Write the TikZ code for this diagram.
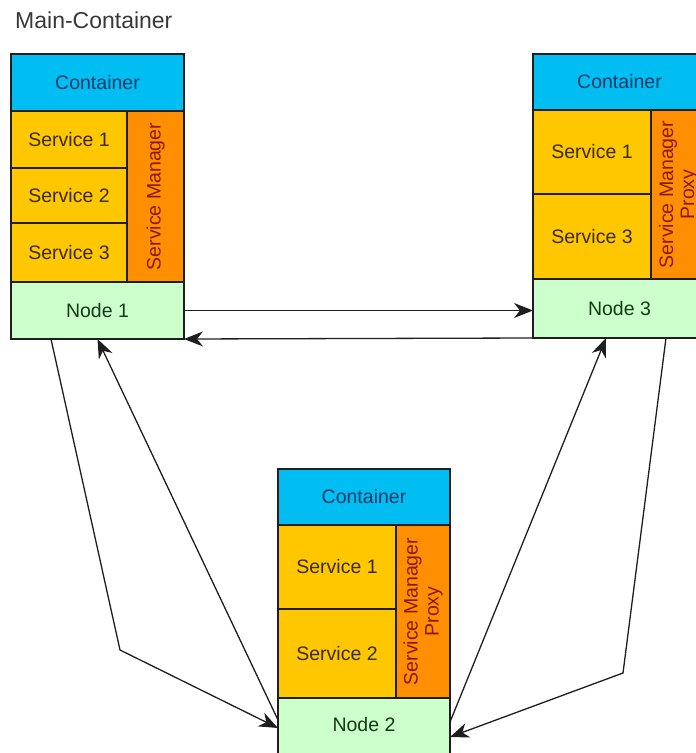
\documentclass[tikz,border=0pt]{standalone}
\usepackage{fontspec}
\setmainfont{Liberation Sans}
\usetikzlibrary{arrows.meta,calc}
\definecolor{cblue}{HTML}{00BEF2}
\definecolor{cserv}{HTML}{FFC700}
\definecolor{cmgr}{HTML}{FF8E00}
\definecolor{cnode}{HTML}{CCFFCC}
\definecolor{tblue}{HTML}{0A3A6A}
\definecolor{tserv}{HTML}{3A2A00}
\definecolor{tmgr}{HTML}{8A1800}
\definecolor{tnode}{HTML}{143A14}
\definecolor{tline}{HTML}{1E1E1E}
\begin{document}
\begin{tikzpicture}[x=1pt,y=-1pt,
  box/.style={draw=tline, line width=1.3pt, rectangle, inner sep=0pt, outer sep=0pt,
    font=\fontsize{19.5}{21}\selectfont},
  contbox/.style={box, fill=cblue, text=tblue, anchor=north west},
  servbox/.style={box, fill=cserv, text=tserv, anchor=north west},
  mgrbox/.style={box, fill=cmgr, text=tmgr, rotate=90, align=center},
  nodebox/.style={box, fill=cnode, text=tnode, anchor=north west},
  arr/.style={draw=tline, line width=1.3pt, -{Stealth[length=19pt,width=15pt,inset=6pt]}},
  title/.style={font=\fontsize{23}{26}\selectfont, text=black!78, inner sep=0pt, anchor=base west}
]
\useasboundingbox (0,0) rectangle (696,753);
\clip (0,0) rectangle (696,753);

\node[title] (t) at (15,28) {Main-Container};

% Block 1
\node[contbox, minimum width=173pt, minimum height=57pt] (c1) at (11,54) {Container};
\node[servbox, minimum width=116pt, minimum height=57pt] (s11) at (11,111) {Service 1};
\node[servbox, minimum width=116pt, minimum height=55pt] (s12) at (11,168) {Service 2};
\node[servbox, minimum width=116pt, minimum height=59pt] (s13) at (11,223) {Service 3};
\node[mgrbox, minimum width=171pt, minimum height=57pt] (m1) at (155.5,196.5) {Service Manager};
\node[nodebox, minimum width=173pt, minimum height=57pt] (n1) at (11,282) {Node 1};

% Block 3
\node[contbox, minimum width=173pt, minimum height=56pt] (c3) at (533,54) {Container};
\node[servbox, minimum width=118pt, minimum height=84pt] (s31) at (533,110) {Service 1};
\node[servbox, minimum width=118pt, minimum height=85pt] (s33) at (533,194) {Service 3};
\node[mgrbox, minimum width=169pt, minimum height=55pt] (m3) at (678.5,194.5) {Service Manager\\Proxy};
\node[nodebox, minimum width=173pt, minimum height=59pt] (n3) at (533,279) {Node 3};

% Block 2
\node[contbox, minimum width=172pt, minimum height=56pt] (c2) at (278,469) {Container};
\node[servbox, minimum width=118pt, minimum height=84pt] (s21) at (278,525) {Service 1};
\node[servbox, minimum width=118pt, minimum height=89pt] (s22) at (278,609) {Service 2};
\node[mgrbox, minimum width=173pt, minimum height=54pt] (m2) at (423,611.5) {Service Manager\\Proxy};
\node[nodebox, minimum width=172pt, minimum height=60pt, text depth=8pt] (n2) at (278,698) {Node 2};

% bend points
\coordinate (b1) at (120,650);
\coordinate (b3) at (623,673);

% connectors
\draw[arr] (n1.east) -- (n1.east -| n3.west);
\draw[arr] (n3.south west) -- (n1.south east);
\draw[arr] ($(n1.south west)+(40,0)$) -- (b1) -- (n2.west);
\draw[arr] ([yshift=8pt]n2.west) -- (n1.south);
\draw[arr] ($(n3.south west)+(133,0)$) -- (b3) -- ([yshift=-9pt]n2.east);
\draw[arr] ([yshift=6pt]n2.east) -- ($(n3.south west)+(73,0)$);
\end{tikzpicture}
\end{document}
